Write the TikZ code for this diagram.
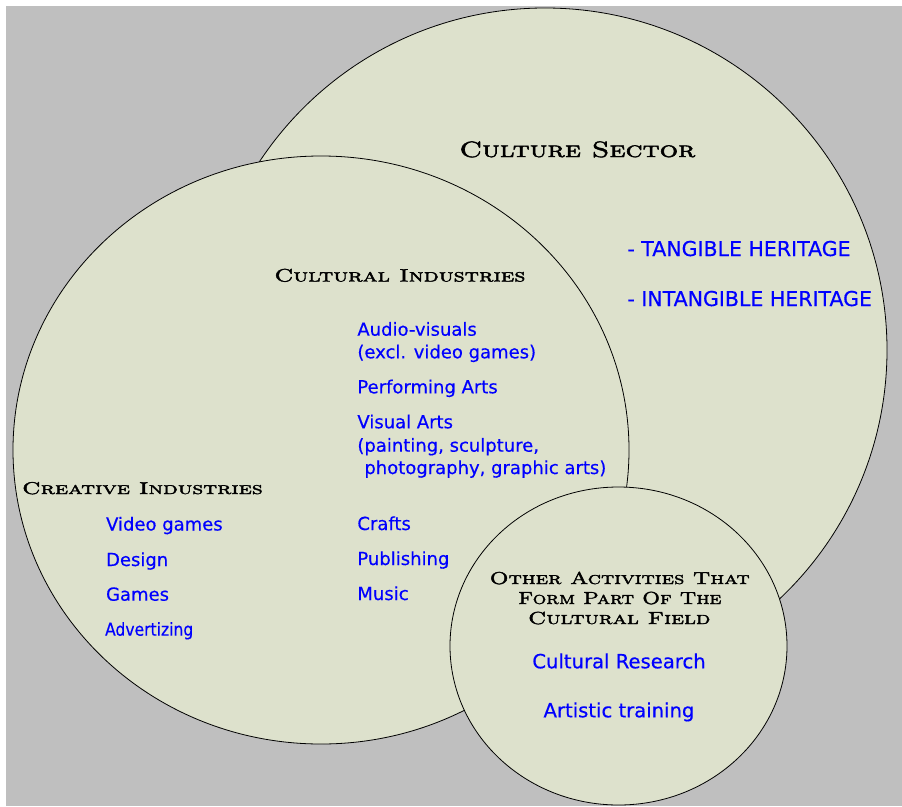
\documentclass[tikz,border=0pt]{standalone}
\usepackage{fontspec}
\usepackage{graphicx}
\newfontfamily\verdana{DejaVu Sans}[FakeBold=0.4]
\newfontfamily\hdfont{lmromancaps10-regular}[Extension=.otf,FakeBold=2]
\newcommand\hd[3]{\resizebox{#1pt}{#2pt}{\hdfont\fontsize{20}{24}\selectfont #3}}
\definecolor{sage}{RGB}{221,225,204}
\definecolor{backgray}{RGB}{191,191,191}

\begin{document}
\begin{tikzpicture}[x=1pt,y=-1pt,line width=0.8pt,
  blob/.style={fill=sage,draw=black},
  head/.style={inner sep=0pt,anchor=base west},
  item/.style={inner sep=0pt,anchor=base west,text=blue,font=\verdana\fontsize{18}{22}\selectfont},
  bigitem/.style={item,font=\verdana\fontsize{20.5}{24}\selectfont},
  miditem/.style={item,anchor=base,font=\verdana\fontsize{19.6}{24}\selectfont}]
\useasboundingbox (0,0) rectangle (902,806);
\fill[backgray] (6,6) rectangle (902,806);
% outline
\draw[blob] (545,350) circle [radius=342];
\draw[blob] (321,450) ellipse [x radius=308, y radius=294];
\draw[blob] (618.5,646) ellipse [x radius=168.5, y radius=159];
% culture sector
\node[head] (sector) at (459,157) {\hd{236}{15.6}{Culture Sector}};
\node[bigitem] (tangible) at (627,256) {- TANGIBLE HERITAGE};
\node[bigitem] (intangible) at (627,306) {- INTANGIBLE HERITAGE};
% cultural industries
\node[head] (culturalind) at (274,281.5) {\hd{251}{12.7}{Cultural Industries}};
\node[item] (audio) at (357,335.7) {Audio-visuals};
\node[item] (audionote) at (357,358.3) {(excl. video games)};
\node[item] (performing) at (357,393.3) {Performing Arts};
\node[item] (visual) at (357,428.3) {Visual Arts};
\node[item] (visualnote) at (357,451.7) {(painting, sculpture,};
\node[item] (visualnotetwo) at (364,474) {photography, graphic arts)};
\node[item] (crafts) at (357,530) {Crafts};
\node[item] (publishing) at (357,565) {Publishing};
\node[item] (music) at (357,600) {Music};
% creative industries
\node[head] (creativeind) at (21.7,494) {\hd{240.6}{12}{Creative Industries}};
\node[item] (videogames) at (105.7,530.5) {Video games};
\node[item] (design) at (105.7,566) {Design};
\node[item] (games) at (105.7,600.7) {Games};
\node[item] (advertizing) at (104.7,635.7) {\scalebox{0.865}[1]{Advertizing}};
% other activities
\node[head] (otherone) at (489.3,584) {\hd{260}{12.3}{Other Activities That}};
\node[head] (othertwo) at (517.7,604) {\hd{203.3}{12.3}{Form Part Of The}};
\node[head] (otherthree) at (527.7,624) {\hd{182.3}{12.3}{Cultural Field}};
\node[miditem] (research) at (619,668.3) {Cultural Research};
\node[miditem] (training) at (619,717.3) {Artistic training};
\end{tikzpicture}
\end{document}
